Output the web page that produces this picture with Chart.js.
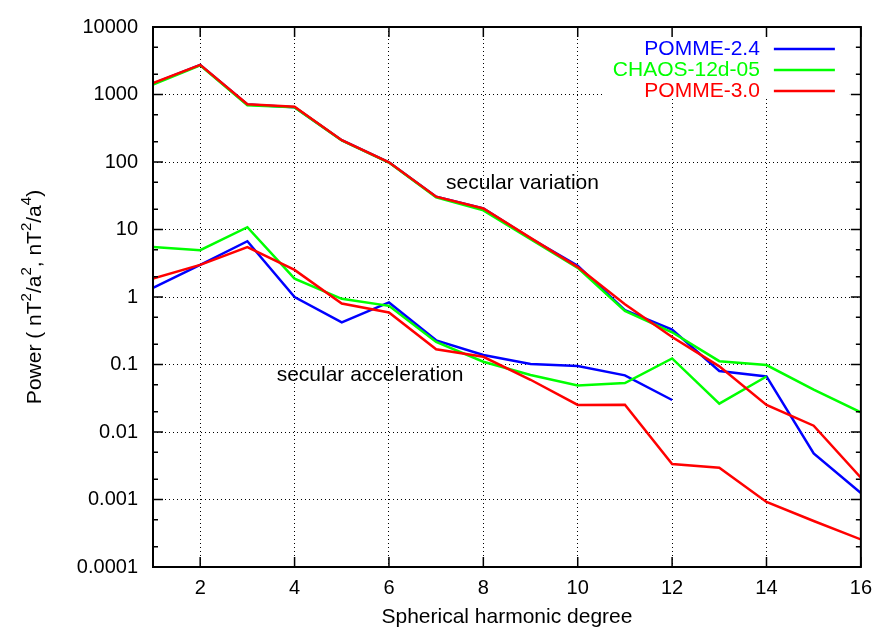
<!DOCTYPE html>
<html>
<head>
<meta charset="utf-8">
<script src="https://cdn.jsdelivr.net/npm/chart.js@4/dist/chart.umd.min.js"></script>
<style>
  body { margin: 0; background: #fff; }
  canvas { display: block; }
</style>
</head>
<body>
<canvas id="myChart" width="881" height="632"></canvas>
<script>
// spherical harmonic degree n
var degrees = [1, 2, 3, 4, 5, 6, 7, 8, 9, 10, 11, 12, 13, 14, 15, 16]

// secular variation spectra (nT^2/a^2)
var svPomme24 = [1450, 2750, 710, 650, 210, 99, 30.6, 20.5, 7.4, 2.9, 0.64, 0.33, 0.080, 0.0665, 0.0048, 0.00125]
var svChaos = [1400, 2700, 695, 645, 208, 98, 30, 19.2, 7.2, 2.7, 0.62, 0.30, 0.112, 0.098, 0.0425, 0.0195]
var svPomme30 = [1480, 2750, 718, 657, 210, 99, 30.6, 20.5, 7.5, 2.77, 0.78, 0.255, 0.094, 0.0252, 0.0124, 0.0021]

// secular acceleration spectra (nT^2/a^4)
var saPomme24 = [1.37, 2.99, 6.7, 1.0, 0.42, 0.83, 0.228, 0.138, 0.102, 0.095, 0.069, 0.0298, null, null, null, null]
var saChaos = [5.5, 4.94, 10.8, 1.87, 0.94, 0.74, 0.216, 0.110, 0.070, 0.0487, 0.0532, 0.123, 0.0263, 0.0665, null, null]
var saPomme30 = [1.87, 2.99, 5.5, 2.52, 0.80, 0.59, 0.168, 0.13, 0.0594, 0.0252, 0.0253, 0.00336, 0.00296, 0.00092, 0.00048, 0.000256]

var models = ['POMME-2.4', 'CHAOS-12d-05', 'POMME-3.0']
var colors = ['#0000ff', '#00ff00', '#ff0000']

var xTicks = [2, 4, 6, 8, 10, 12, 14, 16]
var yTickValues = [0.0001, 0.001, 0.01, 0.1, 1, 10, 100, 1000, 10000]
var yTickLabels = ['0.0001', '0.001', '0.01', '0.1', '1', '10', '100', '1000', '10000']

// y label pieces, true = superscript
var yTitle = [['Power ( nT', false], ['2', true], ['/a', false], ['2', true], [', nT', false], ['2', true], ['/a', false], ['4', true], [')', false]]

var FONT = '"Liberation Sans", Arial, Helvetica, sans-serif'

function points(values) {
    return degrees.map((n, i) => ({ x: n, y: values[i] }))
}

function makeSet(label, values, idx) {
    return {
        label: label,
        data: points(values),
        borderColor: colors[idx],
        backgroundColor: colors[idx],
        borderWidth: 2.5,
        pointRadius: 0,
        fill: false,
        tension: 0,
        spanGaps: false,
        order: 2 - idx   // red drawn on top
    }
}

// opaque key box, key entries, annotations, y label, frame and inward tick marks
var gnuplotLook = {
    id: 'gnuplotLook',
    beforeDatasetsDraw(chart) {
        var ctx = chart.ctx, a = chart.chartArea
        ctx.save()
        ctx.fillStyle = '#fff'
        ctx.fillRect(a.right - 256, a.top + 1, 245, 70)
        ctx.restore()
    },
    afterDraw(chart) {
        var ctx = chart.ctx, a = chart.chartArea
        var xs = chart.scales.x, ys = chart.scales.y
        ctx.save()

        // annotations
        ctx.fillStyle = '#000'
        ctx.font = '21px ' + FONT
        ctx.textAlign = 'left'
        ctx.textBaseline = 'middle'
        ctx.fillText('secular variation', xs.getPixelForValue(7.21), ys.getPixelForValue(48))
        ctx.fillText('secular acceleration', xs.getPixelForValue(3.62), ys.getPixelForValue(0.07))

        // key
        models.forEach((m, i) => {
            var y = a.top + 22 + i * 21
            ctx.fillStyle = colors[i]
            ctx.textAlign = 'right'
            ctx.fillText(m, a.right - 101, y)
            ctx.strokeStyle = colors[i]
            ctx.lineWidth = 2.5
            ctx.beginPath()
            ctx.moveTo(a.right - 87, y)
            ctx.lineTo(a.right - 26, y)
            ctx.stroke()
        })

        // rotated y label with superscripts
        var fMain = '21px ' + FONT, fSup = '15px ' + FONT
        var total = 0
        yTitle.forEach(p => { ctx.font = p[1] ? fSup : fMain; total += ctx.measureText(p[0]).width })
        ctx.save()
        ctx.translate(41, (a.top + a.bottom) / 2)
        ctx.rotate(-Math.PI / 2)
        ctx.fillStyle = '#000'
        ctx.textAlign = 'left'
        ctx.textBaseline = 'alphabetic'
        var cx = -total / 2
        yTitle.forEach(p => {
            ctx.font = p[1] ? fSup : fMain
            ctx.fillText(p[0], cx, p[1] ? -10 : 0)
            cx += ctx.measureText(p[0]).width
        })
        ctx.restore()

        // tick marks
        ctx.strokeStyle = '#000'
        ctx.lineWidth = 1.5
        ctx.beginPath()
        for (var e = -4; e <= 4; e++) {
            var py = ys.getPixelForValue(Math.pow(10, e))
            ctx.moveTo(a.left, py); ctx.lineTo(a.left + 10, py)
            ctx.moveTo(a.right, py); ctx.lineTo(a.right - 10, py)
            if (e < 4) {
                [2, 5].forEach(m => {
                    var my = ys.getPixelForValue(m * Math.pow(10, e))
                    ctx.moveTo(a.left, my); ctx.lineTo(a.left + 5, my)
                    ctx.moveTo(a.right, my); ctx.lineTo(a.right - 5, my)
                })
            }
        }
        xTicks.forEach(t => {
            var px = xs.getPixelForValue(t)
            ctx.moveTo(px, a.bottom); ctx.lineTo(px, a.bottom - 10)
            ctx.moveTo(px, a.top); ctx.lineTo(px, a.top + 10)
        })
        ctx.stroke()

        // frame
        ctx.lineWidth = 2
        ctx.strokeRect(a.left, a.top, a.right - a.left, a.bottom - a.top)
        ctx.restore()
    }
}

const ctx = document.getElementById('myChart')

new Chart(ctx, {
    type: 'line',
    data: {
        datasets: [
            makeSet(models[0], svPomme24, 0),
            makeSet(models[1], svChaos, 1),
            makeSet(models[2], svPomme30, 2),
            makeSet(models[0] + ' SA', saPomme24, 0),
            makeSet(models[1] + ' SA', saChaos, 1),
            makeSet(models[2] + ' SA', saPomme30, 2)
        ]
    },
    options: {
        responsive: false,
        animation: false,
        layout: { padding: { top: 18, right: 18, left: 0, bottom: 0 } },
        plugins: {
            legend: { display: false },
            tooltip: { enabled: false }
        },
        scales: {
            x: {
                type: 'linear',
                min: 1,
                max: 16,
                afterBuildTicks: (scale) => { scale.ticks = xTicks.map(v => ({ value: v })) },
                afterFit: (scale) => { scale.height = 65 },
                ticks: {
                    color: '#000',
                    font: { family: FONT, size: 20 },
                    padding: 9,
                    maxRotation: 0,
                    autoSkip: false
                },
                grid: { color: '#000', lineWidth: 1, drawTicks: false },
                border: { display: false, dash: [1, 3] },
                title: {
                    display: true,
                    text: 'Spherical harmonic degree',
                    color: '#000',
                    font: { family: FONT, size: 21 },
                    padding: { top: 0, bottom: 2 }
                }
            },
            y: {
                type: 'logarithmic',
                min: 0.0001,
                max: 10000,
                afterBuildTicks: (scale) => { scale.ticks = yTickValues.map(v => ({ value: v, major: true })) },
                afterFit: (scale) => { scale.width = 153 },
                ticks: {
                    color: '#000',
                    font: { family: FONT, size: 20 },
                    padding: 15,
                    autoSkip: false,
                    callback: (v) => yTickLabels[yTickValues.indexOf(v)]
                },
                grid: { color: '#000', lineWidth: 1, drawTicks: false },
                border: { display: false, dash: [1, 3] }
            }
        }
    },
    plugins: [gnuplotLook]
})
</script>
</body>
</html>
